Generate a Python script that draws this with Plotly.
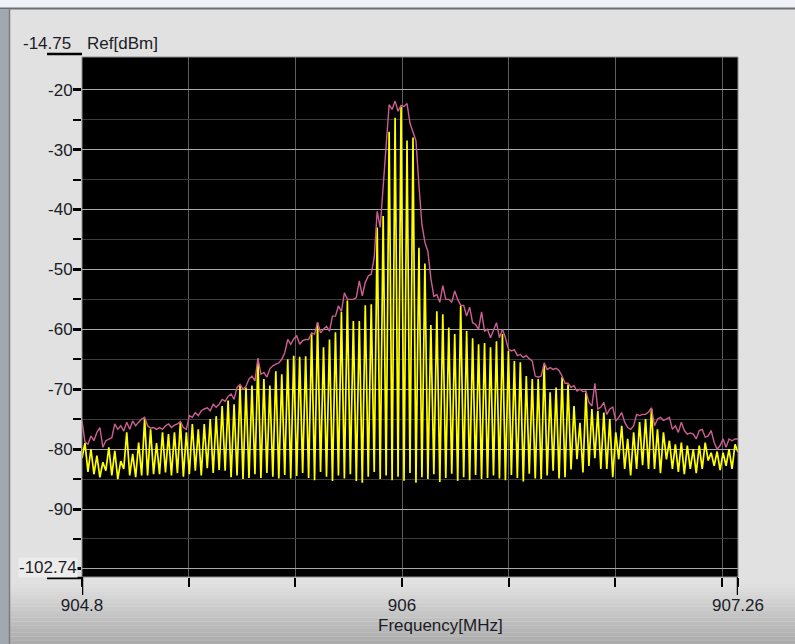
import numpy as np
import plotly.graph_objects as go

# ---------------- data ----------------
freq_start_mhz = 904.8
freq_stop_mhz = 907.26
n_points = 221

# live trace (yellow): alternating trough / peak samples
yellow_troughs_dbm = [
    -81.5, -83.8, -84.2, -84.7, -83.6, -84.4, -85.0, -83.3, -84.4, -84.7,
    -84.4, -84.4, -84.2, -84.2, -83.9, -84.4, -84.0, -84.6, -84.2, -83.6,
    -84.4, -83.2, -84.0, -83.5, -83.6, -84.7, -84.4, -85.0, -84.8, -84.2,
    -84.8, -84.0, -84.6, -84.9, -84.3, -84.9, -84.5, -84.0, -84.8, -85.2,
    -83.8, -84.6, -85.3, -84.4, -84.9, -84.2, -85.3, -85.6, -84.6, -83.8,
    -85.0, -84.4, -85.2, -84.6, -85.3, -84.0, -85.6, -84.7, -85.0, -84.2,
    -85.5, -84.8, -84.1, -85.3, -84.7, -85.2, -84.3, -85.0, -84.8, -84.4,
    -84.9, -85.2, -84.3, -84.8, -85.4, -84.1, -84.9, -85.0, -84.4, -83.6,
    -84.9, -84.7, -83.4, -81.7, -83.9, -82.8, -81.5, -83.3, -83.3, -84.7,
    -81.7, -83.3, -84.4, -83.3, -82.7, -83.3, -83.3, -84.0, -81.7, -83.3,
    -83.8, -84.2, -83.3, -84.0, -83.3, -81.9, -82.8, -83.5, -82.8, -83.3,
    -80.5,
]
yellow_peaks_dbm = [
    -79.0, -80.0, -81.1, -82.2, -79.7, -80.3, -82.0, -77.2, -80.8, -78.9,
    -75.0, -76.7, -79.0, -77.2, -77.5, -77.2, -75.5, -77.2, -75.8, -76.7,
    -75.8, -75.0, -74.5, -72.8, -71.9, -72.5, -69.4, -69.7, -69.4, -65.0,
    -68.3, -69.4, -67.0, -67.5, -65.0, -64.4, -64.6, -64.5, -60.8, -59.0,
    -63.0, -61.7, -60.5, -57.1, -55.2, -58.6, -58.6, -56.0, -55.8, -43.0,
    -41.1, -27.0, -24.7, -22.8, -28.5, -28.0, -46.4, -49.0, -59.3, -57.0,
    -57.5, -59.7, -60.8, -56.1, -60.3, -61.5, -62.5, -62.3, -63.0, -62.0,
    -60.8, -63.6, -65.3, -65.5, -67.8, -68.3, -68.3, -65.8, -70.5, -69.7,
    -68.0, -69.2, -72.8, -75.6, -70.6, -73.3, -73.6, -73.9, -75.0, -77.2,
    -76.1, -78.3, -77.2, -75.5, -75.0, -73.3, -76.7, -77.2, -78.6, -79.2,
    -78.9, -79.4, -80.0, -79.4, -78.9, -80.6, -80.4, -80.6, -80.0, -79.2,
]

# max-hold trace (pink)
max_hold_dbm = [
    -75.3, -78.8, -79.2, -77.8, -78.6, -77.2, -76.4, -79.7, -78.6, -78.3,
    -78.1, -75.8, -76.7, -76.1, -77.0, -75.5, -76.7, -75.3, -76.1, -75.5,
    -75.0, -74.7, -76.1, -76.5, -76.4, -76.7, -76.4, -76.7, -76.1, -75.8,
    -76.4, -76.0, -75.8, -75.4, -76.4, -76.7, -74.4, -74.7, -73.9, -74.4,
    -73.6, -73.3, -73.1, -73.6, -72.5, -73.0, -72.5, -71.7, -72.0, -71.2,
    -70.8, -71.7, -69.7, -69.2, -70.0, -69.5, -68.3, -67.8, -68.6, -64.8,
    -67.5, -67.2, -68.0, -66.6, -66.1, -65.8, -65.6, -65.0, -63.9, -61.7,
    -62.5, -61.6, -61.1, -62.5, -61.9, -61.7, -61.7, -60.6, -60.8, -58.8,
    -60.6, -60.0, -59.5, -60.3, -57.8, -57.8, -56.1, -57.0, -53.9, -55.0,
    -55.0, -55.0, -54.7, -51.9, -54.4, -52.2, -51.1, -50.8, -48.0, -40.3,
    -43.0, -36.0, -29.0, -22.5, -23.3, -21.9, -23.6, -22.6, -22.8, -22.3,
    -25.6, -27.0, -28.5, -36.0, -42.5, -45.5, -47.0, -51.5, -54.5, -54.2,
    -55.5, -52.7, -55.0, -55.0, -55.5, -53.6, -55.0, -56.0, -56.0, -57.8,
    -56.3, -58.9, -59.2, -60.0, -57.1, -60.3, -60.0, -61.4, -60.2, -58.9,
    -61.4, -60.0, -61.4, -63.3, -63.6, -63.4, -64.4, -64.2, -64.7, -64.4,
    -64.9, -65.3, -67.8, -68.0, -67.8, -65.6, -66.7, -66.4, -66.7, -66.5,
    -66.9, -67.8, -69.0, -69.0, -69.7, -69.4, -70.3, -70.0, -70.4, -70.3,
    -72.2, -72.8, -69.0, -73.3, -73.0, -72.2, -74.2, -73.3, -73.0, -75.3,
    -74.7, -73.9, -75.5, -76.4, -76.7, -76.1, -74.2, -74.4, -74.2, -74.2,
    -73.8, -73.1, -76.1, -75.0, -74.7, -75.2, -75.0, -74.7, -76.7, -76.1,
    -77.2, -75.5, -76.9, -77.5, -77.3, -77.5, -78.3, -76.9, -76.7, -78.0,
    -77.8, -76.9, -78.9, -80.0, -79.4, -78.3, -79.7, -78.3, -78.6, -78.3,
    -78.3,
]

y_major_ticks = [-20, -30, -40, -50, -60, -70, -80, -90, -100]
y_major_labels = ["-20", "-30", "-40", "-50", "-60", "-70", "-80", "-90", ""]
y_minor_ticks = [-25, -35, -45, -55, -65, -75, -85, -95]
x_major_ticks = [904.8, 906.0, 907.26]
x_major_labels = ["904.8", "906", "907.26"]
x_minor_ticks = [905.2, 905.6, 906.4, 906.8, 907.2]
ref_top_label = "-14.75"
ref_bottom_label = "-102.74"
ref_unit_label = "Ref[dBm]"
x_title = "Frequency[MHz]"
y_view = [-101.35, -14.54]

# ---------------- build ----------------
freq = np.linspace(freq_start_mhz, freq_stop_mhz, n_points)
live = []
for t, p in zip(yellow_troughs_dbm, yellow_peaks_dbm):
    live += [t, p]
live.append(yellow_troughs_dbm[-1])

FONT = "Liberation Sans, Arial, sans-serif"
TXT = "#1c1c26"

# geometry helpers (plot area: 656 x 520 px, margins l82 t57 b67 r57)
PW, PH = 656.0, 520.0
def px(xp):
    return (xp - 82) / PW
def py(yp):
    return (577 - yp) / PH

fig = go.Figure()
fig.add_trace(go.Scatter(x=freq, y=live, mode="lines",
                         line=dict(color="#ffff00", width=1.7),
                         hoverinfo="skip", showlegend=False))
fig.add_trace(go.Scatter(x=freq, y=max_hold_dbm, mode="lines",
                         line=dict(color="#cc5f91", width=1.4),
                         hoverinfo="skip", showlegend=False))

shapes = []
# window decorations
shapes.append(dict(type="rect", xref="paper", yref="paper", x0=px(0), x1=px(795),
                   y0=py(8), y1=py(0), fillcolor="#eef2f8", line=dict(width=0), layer="below"))
shapes.append(dict(type="line", xref="paper", yref="paper", x0=px(0), x1=px(795),
                   y0=py(8.5), y1=py(8.5), line=dict(color="#6e6e6e", width=2), layer="below"))
# bottom gradient
n_bands = 16
y_start, y_end = 584.0, 644.0
for b in range(n_bands):
    y0p = y_start + (y_end - y_start) * b / n_bands
    y1p = y_start + (y_end - y_start) * (b + 1) / n_bands
    f = (b + 0.5) / n_bands
    c = int(round(225 - f * 55))
    shapes.append(dict(type="rect", xref="paper", yref="paper", x0=px(0), x1=px(795),
                       y0=py(y1p), y1=py(y0p), fillcolor=f"rgb({c},{c},{c})",
                       line=dict(width=0), layer="below"))
shapes.append(dict(type="rect", xref="paper", yref="paper", x0=px(0), x1=px(9),
                   y0=py(644), y1=py(9), fillcolor="#a3a8b0", line=dict(width=0), layer="below"))
shapes.append(dict(type="line", xref="paper", yref="paper", x0=px(9.5), x1=px(9.5),
                   y0=py(644), y1=py(9), line=dict(color="#7c7c7c", width=1.5), layer="below"))
# plot frame
shapes.append(dict(type="rect", xref="paper", yref="paper", x0=0, x1=1, y0=0, y1=1,
                   line=dict(color="#8c8c8c", width=1), layer="above"))
# reference lines at the top / bottom of the scale
shapes.append(dict(type="line", xref="paper", yref="paper", x0=px(47), x1=0,
                   y0=py(54), y1=py(54), line=dict(color="black", width=2.5), layer="above"))
shapes.append(dict(type="line", xref="paper", yref="paper", x0=px(47), x1=0,
                   y0=py(578), y1=py(578), line=dict(color="black", width=2.5), layer="above"))
# long ticks at the two ends of the frequency axis
for xv in (x_major_ticks[0], x_major_ticks[-1]):
    shapes.append(dict(type="line", xref="x", yref="paper", x0=xv, x1=xv,
                       y0=0, y1=py(595), line=dict(color="black", width=2.5), layer="above"))

annotations = [
    dict(text=ref_top_label, xref="paper", yref="paper", x=px(73), y=py(43),
         xanchor="right", yanchor="middle", showarrow=False,
         font=dict(family=FONT, size=17, color=TXT)),
    dict(text=ref_unit_label, xref="paper", yref="paper", x=px(85), y=py(43),
         xanchor="left", yanchor="middle", showarrow=False,
         font=dict(family=FONT, size=17, color=TXT)),
    dict(text=ref_bottom_label, xref="paper", yref="paper", x=px(78), y=py(567),
         xanchor="right", yanchor="middle", showarrow=False, bgcolor="#ececec",
         borderpad=0, font=dict(family=FONT, size=17, color=TXT)),
    dict(text=x_title, xref="paper", yref="paper", x=px(440), y=py(625),
         xanchor="center", yanchor="middle", showarrow=False,
         font=dict(family=FONT, size=17, color=TXT)),
]

fig.update_layout(
    width=795, height=644, autosize=False,
    margin=dict(l=82, r=57, t=57, b=67, pad=0),
    paper_bgcolor="#e1e1e1", plot_bgcolor="#000000",
    showlegend=False,
    shapes=shapes, annotations=annotations,
    xaxis=dict(
        range=[freq_start_mhz, freq_stop_mhz],
        tickmode="array", tickvals=x_major_ticks, ticktext=x_major_labels,
        ticks="outside", ticklen=9, tickwidth=1.5, tickcolor="black",
        ticklabelstandoff=4,
        showgrid=True, gridcolor="#5c5c5c", gridwidth=1,
        zeroline=False, showline=False,
        tickfont=dict(family=FONT, size=17, color=TXT),
        minor=dict(tickmode="array", tickvals=x_minor_ticks, ticks="outside",
                   ticklen=9, tickwidth=1.5, tickcolor="black",
                   showgrid=True, gridcolor="#5c5c5c", gridwidth=1),
    ),
    yaxis=dict(
        range=y_view,
        tickmode="array", tickvals=y_major_ticks, ticktext=y_major_labels,
        ticks="outside", ticklen=8, tickwidth=2.5, tickcolor="black",
        ticklabelstandoff=-3,
        showgrid=True, gridcolor="#a9a9a9", gridwidth=1.2,
        zeroline=False, showline=False,
        tickfont=dict(family=FONT, size=17, color=TXT),
        minor=dict(tickmode="array", tickvals=y_minor_ticks, ticks="outside",
                   ticklen=8, tickwidth=2, tickcolor="black",
                   showgrid=True, gridcolor="#3c3c3c", gridwidth=1),
    ),
)

fig.write_html("out.html", config={"displayModeBar": False},
               post_script="document.body.style.margin='0px';document.body.style.padding='0px';")
